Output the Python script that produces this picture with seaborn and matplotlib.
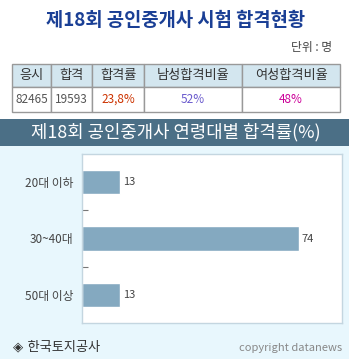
import matplotlib
matplotlib.use('Agg')
import matplotlib.pyplot as plt
import seaborn as sns
import pandas as pd
from matplotlib.patches import Rectangle

# data
age_groups = ['20대 이하', '30~40대', '50대 이상']
pass_rates = [13, 74, 13]

table_headers = ['응시', '합격', '합격률', '남성합격비율', '여성합격비율']
table_values = ['82465', '19593', '23,8%', '52%', '48%']
value_colors = ['#555555', '#555555', '#cc3300', '#6a5acd', '#cc0099']
col_edges_px = [12, 51, 92, 144, 242, 340]

sns.set_theme(style='white')
plt.rcParams['font.family'] = ['Noto Sans CJK KR', 'DejaVu Sans']

W, H = 352, 360
fig = plt.figure(figsize=(W / 100, H / 100), dpi=100)
fig.patch.set_facecolor('white')


def fx(px):
    return px / W


def fy(py):
    return 1 - py / H


# top title
fig.text(fx(176), fy(20), '제18회 공인중개사 시험 합격현황', ha='center', va='center',
         fontsize=13.5, fontweight='bold', color='#1a3f95')
fig.text(fx(332), fy(47), '단위 : 명', ha='right', va='center', fontsize=8.5, color='#444444')

# table
hdr_top, hdr_bot, row_bot = 64, 87, 112
for i, (h, v) in enumerate(zip(table_headers, table_values)):
    x0, x1 = col_edges_px[i], col_edges_px[i + 1]
    fig.add_artist(Rectangle((fx(x0), fy(hdr_bot)), fx(x1 - x0), (hdr_bot - hdr_top) / H,
                             facecolor='#d3e6ef', edgecolor='#999999', lw=1))
    fig.add_artist(Rectangle((fx(x0), fy(row_bot)), fx(x1 - x0), (row_bot - hdr_bot) / H,
                             facecolor='white', edgecolor='#999999', lw=1))
    xc = fx((x0 + x1) / 2)
    fig.text(xc, fy((hdr_top + hdr_bot) / 2), h, ha='center', va='center',
             fontsize=9.5, color='#333333')
    fig.text(xc, fy((hdr_bot + row_bot) / 2), v, ha='center', va='center',
             fontsize=8.5, color=value_colors[i])

# banner and light background (behind the axes)
fig.add_artist(Rectangle((0, fy(146)), fx(349), 27 / H, facecolor='#4b6f86',
                         edgecolor='none', zorder=-2))
fig.add_artist(Rectangle((0, fy(359)), fx(349), 213 / H, facecolor='#e8f7fd',
                         edgecolor='none', zorder=-2))
fig.text(fx(176), fy(132), '제18회 공인중개사 연령대별 합격률(%)', ha='center', va='center',
         fontsize=12.8, color='white')

# bar chart
ax = fig.add_axes([fx(82), fy(323), fx(260), (323 - 154) / H])
df = pd.DataFrame({'age': age_groups, 'rate': pass_rates})
sns.barplot(data=df, x='rate', y='age', orient='h', color='#84a9c0', saturation=1,
            width=0.43, ax=ax)
ax.set_facecolor('white')
ax.set_xlim(0, 88.7)
ax.set_ylim(2.5, -0.5)
ax.set_xlabel('')
ax.set_ylabel('')
ax.set_xticks([])
for s in ax.spines.values():
    s.set_color('#c4d6e0')
    s.set_linewidth(1)
ax.set_yticks(range(len(age_groups)))
ax.set_yticklabels(age_groups, fontsize=8.5, color='#444444')
ax.tick_params(axis='y', length=0, pad=6)
ax.set_yticks([0.5, 1.5], minor=True)
ax.tick_params(axis='y', which='minor', left=True, direction='in', length=4,
               color='#777777', width=0.8)
for i, v in enumerate(pass_rates):
    ax.text(v + 1, i, str(v), ha='left', va='center', fontsize=8, color='#444444')

# footer
fig.text(fx(13), fy(347), '◈ 한국토지공사', ha='left', va='center', fontsize=9.5,
         color='#333333', family=['DejaVu Sans', 'Noto Sans CJK KR'])
fig.text(fx(342), fy(348), 'copyright datanews', ha='right', va='center', fontsize=8,
         color='#888888')

fig.savefig('out.png', dpi=100)
